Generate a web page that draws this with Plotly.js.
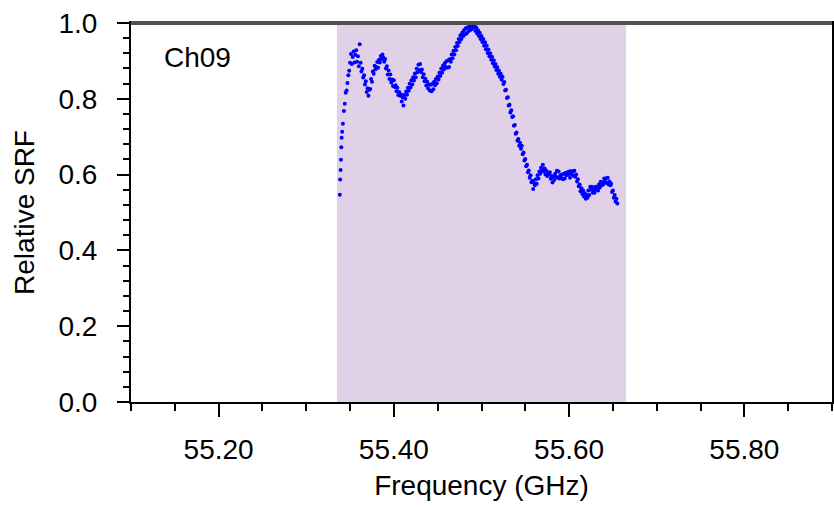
<!DOCTYPE html>
<html>
<head>
<meta charset="utf-8">
<script src="https://cdn.plot.ly/plotly-3.0.1.min.js"></script>
<style>html,body{margin:0;padding:0;background:#fff;}#chart{width:834px;height:508px;}</style>
</head>
<body>
<div id="chart"></div>
<script>
// Channel label and passband edges (GHz)
const channelName = "Ch09";
const passbandGHz = [55.335, 55.665];

// Measured relative spectral response function samples
const freqGHz = [
55.3383,55.3387,55.3392,55.3396,55.3400,55.3404,55.3410,55.3418,55.343,55.344,55.345,55.346,55.347,55.348,55.349,
55.350,55.351,55.352,55.353,55.354,55.355,55.356,55.357,55.358,55.359,
55.360,55.361,55.362,55.363,55.364,55.365,55.366,55.367,55.368,55.369,
55.370,55.371,55.372,55.373,55.374,55.375,55.376,55.377,55.378,55.379,
55.380,55.381,55.382,55.383,55.384,55.385,55.386,55.387,55.388,55.389,
55.390,55.391,55.392,55.393,55.394,55.395,55.396,55.397,55.398,55.399,
55.400,55.401,55.402,55.403,55.404,55.405,55.406,55.407,55.408,55.409,
55.410,55.411,55.412,55.413,55.414,55.415,55.416,55.417,55.418,55.419,
55.420,55.421,55.422,55.423,55.424,55.425,55.426,55.427,55.428,55.429,
55.430,55.431,55.432,55.433,55.434,55.435,55.436,55.437,55.438,55.439,
55.440,55.441,55.442,55.443,55.444,55.445,55.446,55.447,55.448,55.449,
55.450,55.451,55.452,55.453,55.454,55.455,55.456,55.457,55.458,55.459,
55.460,55.461,55.462,55.463,55.464,55.465,55.466,55.467,55.468,55.469,
55.470,55.471,55.472,55.473,55.474,55.475,55.476,55.477,55.478,55.479,
55.480,55.481,55.482,55.483,55.484,55.485,55.486,55.487,55.488,55.489,
55.490,55.491,55.492,55.493,55.494,55.495,55.496,55.497,55.498,55.499,
55.500,55.501,55.502,55.503,55.504,55.505,55.506,55.507,55.508,55.509,
55.510,55.511,55.512,55.513,55.514,55.515,55.516,55.517,55.518,55.519,
55.520,55.521,55.522,55.523,55.524,55.525,55.526,55.527,55.528,55.529,
55.530,55.531,55.532,55.533,55.534,55.535,55.536,55.537,55.538,55.539,
55.540,55.541,55.542,55.543,55.544,55.545,55.546,55.547,55.548,55.549,
55.550,55.551,55.552,55.553,55.554,55.555,55.556,55.557,55.558,55.559,
55.560,55.561,55.562,55.563,55.564,55.565,55.566,55.567,55.568,55.569,
55.570,55.571,55.572,55.573,55.574,55.575,55.576,55.577,55.578,55.579,
55.580,55.581,55.582,55.583,55.584,55.585,55.586,55.587,55.588,55.589,
55.590,55.591,55.592,55.593,55.594,55.595,55.596,55.597,55.598,55.599,
55.600,55.601,55.602,55.603,55.604,55.605,55.606,55.607,55.608,55.609,
55.610,55.611,55.612,55.613,55.614,55.615,55.616,55.617,55.618,55.619,
55.620,55.621,55.622,55.623,55.624,55.625,55.626,55.627,55.628,55.629,
55.630,55.631,55.632,55.633,55.634,55.635,55.636,55.637,55.638,55.639,
55.640,55.641,55.642,55.643,55.644,55.645,55.646,55.647,55.648,55.649,
55.650,55.651,55.652,55.653,55.654,55.655
];
const relSRF = [
0.547,0.587,0.612,0.639,0.672,0.697,0.713,0.734,0.768,0.787,0.816,0.822,0.842,0.862,0.874,
0.895,0.918,0.892,0.910,0.925,0.896,0.916,0.928,0.898,0.912,
0.886,0.944,0.895,0.872,0.879,0.856,0.862,0.838,0.846,0.818,
0.828,0.808,0.824,0.826,0.852,0.845,0.872,0.866,0.887,0.878,
0.884,0.897,0.882,0.903,0.896,0.913,0.905,0.917,0.908,0.898,
0.905,0.880,0.886,0.864,0.875,0.852,0.864,0.843,0.851,0.834,
0.849,0.831,0.836,0.820,0.829,0.810,0.818,0.808,0.812,0.793,
0.804,0.782,0.810,0.800,0.819,0.811,0.829,0.821,0.840,0.830,
0.849,0.838,0.857,0.848,0.867,0.857,0.879,0.870,0.890,0.876,
0.892,0.871,0.877,0.857,0.865,0.846,0.853,0.835,0.845,0.828,
0.838,0.822,0.837,0.820,0.840,0.825,0.845,0.836,0.852,0.841,
0.859,0.851,0.869,0.860,0.879,0.869,0.887,0.877,0.894,0.884,
0.899,0.882,0.902,0.884,0.905,0.898,0.917,0.907,0.926,0.917,
0.937,0.928,0.947,0.939,0.958,0.950,0.968,0.958,0.974,0.965,
0.981,0.970,0.986,0.972,0.988,0.978,0.990,0.981,0.993,0.984,
0.997,0.988,0.996,0.979,0.988,0.972,0.981,0.966,0.974,0.958,
0.966,0.950,0.958,0.940,0.949,0.931,0.940,0.921,0.930,0.912,
0.920,0.903,0.911,0.894,0.902,0.885,0.892,0.876,0.883,0.866,
0.874,0.858,0.866,0.850,0.858,0.839,0.844,0.822,0.824,0.802,
0.804,0.782,0.784,0.764,0.770,0.752,0.754,0.729,0.731,0.708,
0.711,0.689,0.694,0.676,0.684,0.668,0.676,0.654,0.658,0.637,
0.641,0.622,0.626,0.606,0.611,0.592,0.598,0.580,0.584,0.562,
0.578,0.572,0.588,0.576,0.598,0.590,0.608,0.602,0.618,0.610,
0.626,0.608,0.616,0.600,0.610,0.596,0.604,0.600,0.606,0.589,
0.596,0.579,0.594,0.586,0.602,0.594,0.610,0.592,0.608,0.590,
0.598,0.592,0.600,0.588,0.602,0.590,0.604,0.598,0.606,0.600,
0.608,0.592,0.609,0.601,0.609,0.597,0.610,0.594,0.600,0.582,
0.588,0.569,0.574,0.556,0.564,0.549,0.558,0.542,0.551,0.536,
0.546,0.539,0.558,0.546,0.568,0.560,0.568,0.552,0.561,0.552,
0.568,0.560,0.566,0.558,0.574,0.566,0.581,0.572,0.580,0.574,
0.590,0.582,0.590,0.578,0.592,0.574,0.582,0.572,0.576,0.554,
0.558,0.539,0.546,0.529,0.536,0.524
];

// Axis settings
const xRange = [55.1, 55.9];
const yRange = [0, 1];

const fontFam = "'Liberation Sans', Arial, Helvetica, sans-serif";
const ink = '#000000';

const trace = {
  type: 'scatter',
  mode: 'markers',
  x: freqGHz,
  y: relSRF,
  marker: {color: '#0000ff', size: 4, line: {width: 0}},
  hoverinfo: 'skip'
};

const layout = {
  width: 834,
  height: 508,
  margin: {l: 131, r: 2, t: 23, b: 106},
  paper_bgcolor: '#ffffff',
  plot_bgcolor: '#ffffff',
  showlegend: false,
  font: {family: fontFam, size: 28, color: ink},
  xaxis: {
    range: xRange,
    tick0: 55.2,
    dtick: 0.2,
    tickformat: '.2f',
    ticks: 'outside',
    ticklen: 13,
    tickwidth: 2,
    tickcolor: ink,
    ticklabelstandoff: 8,
    minor: {dtick: 0.05, ticks: 'outside', ticklen: 7, tickwidth: 2, tickcolor: ink, showgrid: false},
    showgrid: false,
    zeroline: false,
    showline: true,
    linecolor: ink,
    linewidth: 2,
    mirror: true,
    tickfont: {family: fontFam, size: 28, color: ink},
    title: {text: 'Frequency (GHz)', font: {family: fontFam, size: 28, color: ink}, standoff: 12}
  },
  yaxis: {
    range: yRange,
    tick0: 0,
    dtick: 0.2,
    tickformat: '.1f',
    ticks: 'outside',
    ticklen: 12,
    tickwidth: 2,
    tickcolor: ink,
    ticklabelstandoff: 14,
    minor: {dtick: 0.04, ticks: 'outside', ticklen: 6, tickwidth: 2, tickcolor: ink, showgrid: false},
    showgrid: false,
    zeroline: false,
    showline: true,
    linecolor: ink,
    linewidth: 2,
    mirror: true,
    tickfont: {family: fontFam, size: 28, color: ink},
    title: {text: 'Relative SRF', font: {family: fontFam, size: 28, color: ink}, standoff: 16}
  },
  shapes: [
    {type: 'rect', xref: 'x', yref: 'paper', x0: passbandGHz[0], x1: passbandGHz[1], y0: 0, y1: 1,
     fillcolor: '#e0d1e8', line: {width: 0}, layer: 'below'},
    {type: 'line', xref: 'paper', yref: 'paper', x0: 0, x1: 1, y0: 1, y1: 1,
     line: {color: '#505050', width: 4}, layer: 'above'}
  ],
  annotations: [
    {text: channelName, xref: 'paper', yref: 'paper', x: 0.044, y: 0.908, xanchor: 'left', yanchor: 'middle',
     showarrow: false, font: {family: fontFam, size: 28, color: ink}}
  ]
};

Plotly.newPlot('chart', [trace], layout, {staticPlot: true, displayModeBar: false});
</script>
</body>
</html>
